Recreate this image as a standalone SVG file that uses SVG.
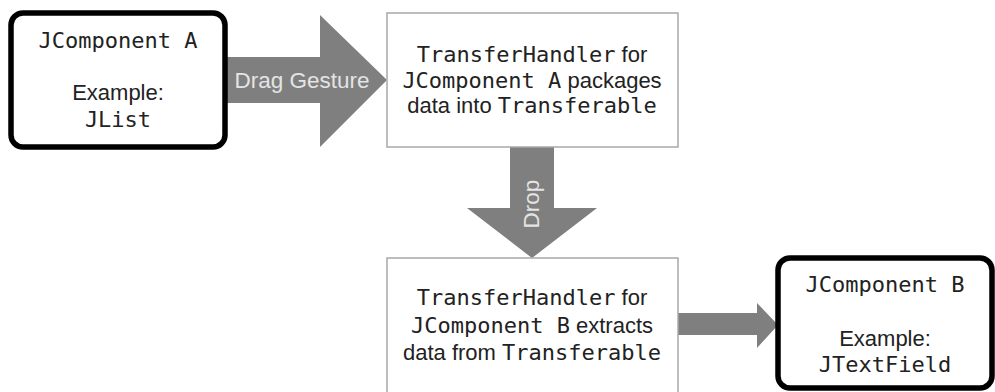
<svg xmlns="http://www.w3.org/2000/svg" width="995" height="392" viewBox="0 0 995 392">
  <style>
    .comp { fill: #fff; stroke: #000; stroke-width: 5.5; }
    .step { fill: #fff; stroke: #a8a8a8; stroke-width: 1.5; }
    .arrow { fill: #7f7f7f; }
    .mono { font-family: "DejaVu Sans Mono", "Liberation Mono", monospace; font-size: 22px; fill: #222; }
    .sans { font-family: "Liberation Sans", Arial, sans-serif; font-size: 22px; fill: #222; }
    .lbl { font-family: "Liberation Sans", Arial, sans-serif; font-size: 22.5px; fill: #e4e4e4; }
    text { text-anchor: middle; }
  </style>
  <rect width="995" height="392" fill="#fff"/>

  <!-- connectors: block arrows -->
  <g id="connectors">
    <g id="drag-gesture">
      <polygon class="arrow" points="227,57 320,57 320,15 387,80 320,147 320,103 227,103"/>
      <text class="lbl" x="302" y="88">Drag Gesture</text>
    </g>
    <g id="drop">
      <polygon class="arrow" points="510,147 554,147 554,208 597,208 532,258 467,208 510,208"/>
      <text class="lbl" font-size="21" transform="translate(539,204) rotate(-90)">Drop</text>
    </g>
    <g id="deliver">
      <polygon class="arrow" points="678,313 757,313 757,303 778,325 757,348 757,335 678,335"/>
    </g>
  </g>

  <g id="component-a">
    <rect class="comp" x="11" y="13" width="214" height="134" rx="12"/>
    <text class="mono" x="118" y="48">JComponent A</text>
    <text class="sans" x="118" y="100">Example:</text>
    <text class="mono" x="118" y="127">JList</text>
  </g>

  <g id="handler-a">
    <rect class="step" x="387" y="13" width="291" height="134"/>
    <text x="532" y="62"><tspan class="mono">TransferHandler</tspan><tspan class="sans"> for</tspan></text>
    <text x="532" y="88"><tspan class="mono">JComponent A</tspan><tspan class="sans"> packages</tspan></text>
    <text x="532" y="113"><tspan class="sans">data into </tspan><tspan class="mono">Transferable</tspan></text>
  </g>

  <g id="handler-b">
    <rect class="step" x="387" y="258" width="291" height="150"/>
    <text x="532" y="305"><tspan class="mono">TransferHandler</tspan><tspan class="sans"> for</tspan></text>
    <text x="532" y="333"><tspan class="mono">JComponent B</tspan><tspan class="sans"> extracts</tspan></text>
    <text x="532" y="360"><tspan class="sans">data from </tspan><tspan class="mono">Transferable</tspan></text>
  </g>

  <g id="component-b">
    <rect class="comp" x="778" y="258" width="214" height="130" rx="12"/>
    <text class="mono" x="885" y="292">JComponent B</text>
    <text class="sans" x="885" y="346">Example:</text>
    <text class="mono" x="885" y="372">JTextField</text>
  </g>
</svg>
